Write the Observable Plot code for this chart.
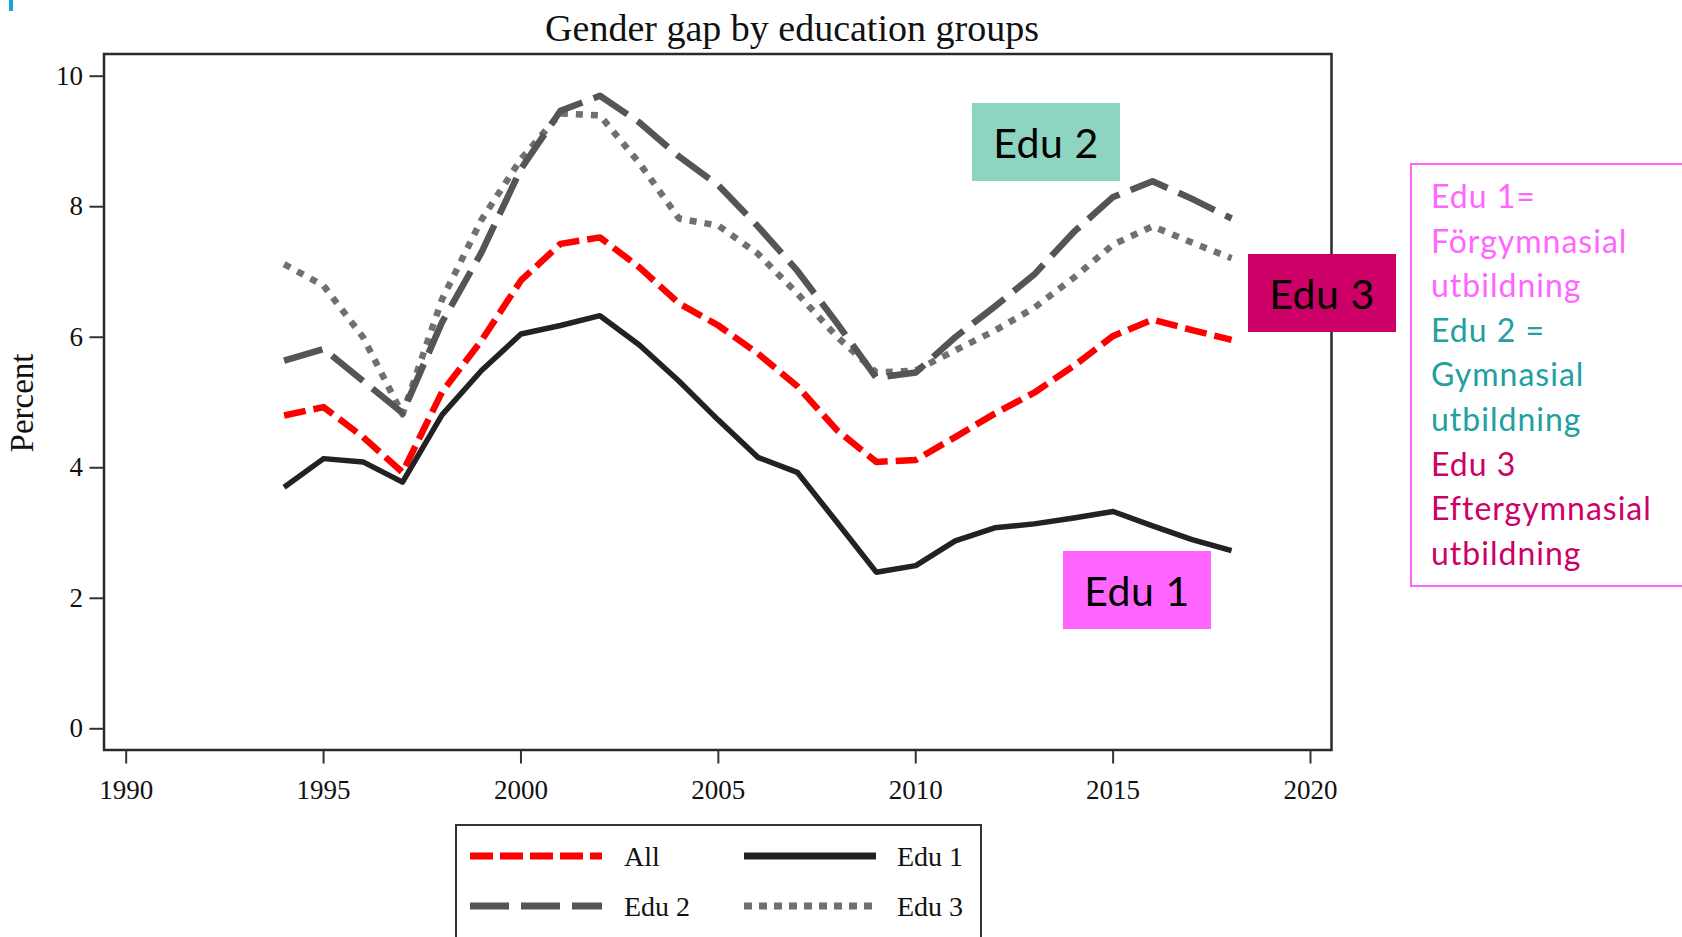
<!DOCTYPE html>
<html>
<head>
<meta charset="utf-8">
<script src="https://cdn.jsdelivr.net/npm/d3@7"></script>
<script src="https://cdn.jsdelivr.net/npm/@observablehq/plot@0.6"></script>
<style>
  html, body { margin: 0; padding: 0; background: #fff; }
  #root { position: relative; width: 1682px; height: 937px; overflow: hidden; background: #fff; }
  #plot { position: absolute; left: 0; top: 0; }
  .serif { font-family: "Liberation Serif", "DejaVu Serif", serif; color: #111; }
  .tag { position: absolute; display: flex; align-items: center; justify-content: center;
         font-family: Lato, "Open Sans", sans-serif; font-size: 41px; letter-spacing: 0.5px; color: #000; }
</style>
</head>
<body>
<div id="root">
  <div style="position:absolute;left:9px;top:0;width:4px;height:11px;background:#1aa0dc"></div>
  <div id="title" class="serif" style="position:absolute;left:792px;top:9px;transform:translateX(-50%);font-size:38px;line-height:38px;white-space:nowrap"></div>
  <div id="plot"></div>
  <div id="ylabel" class="serif" style="position:absolute;left:22px;top:403px;transform:translate(-50%,-50%) rotate(-90deg);font-size:33px;white-space:nowrap"></div>
  <div id="legend" style="position:absolute;left:455px;top:824px"></div>
  <div id="tags"></div>
  <div style="position:absolute;left:1410px;top:163px;width:300px;height:424px;border:2px solid #ff66ff;box-sizing:border-box"></div>
  <div id="notes" style="position:absolute;left:1431px;top:174px;font-family:Lato,'Open Sans',sans-serif;font-size:32px;letter-spacing:1px;line-height:44.6px;white-space:nowrap"></div>
</div>
<script>
// ---------------- data ----------------
const titleText = "Gender gap by education groups";
const yLabel = "Percent";
const years = [1994,1995,1996,1997,1998,1999,2000,2001,2002,2003,2004,2005,2006,2007,2008,2009,2010,2011,2012,2013,2014,2015,2016,2017,2018];
const allVals  = [4.80,4.93,4.47,3.93,5.16,5.95,6.87,7.43,7.53,7.07,6.52,6.18,5.75,5.25,4.58,4.09,4.12,4.47,4.83,5.15,5.56,6.02,6.27,6.11,5.96];
const edu1Vals = [3.70,4.14,4.09,3.78,4.81,5.49,6.05,6.18,6.33,5.88,5.33,4.73,4.16,3.93,3.17,2.40,2.50,2.88,3.08,3.14,3.23,3.33,3.11,2.90,2.73];
const edu2Vals = [5.64,5.82,5.33,4.84,6.23,7.30,8.58,9.47,9.70,9.29,8.77,8.33,7.70,7.02,6.22,5.38,5.46,6.00,6.47,6.96,7.61,8.15,8.39,8.12,7.82];
const edu3Vals = [7.12,6.79,6.00,4.82,6.58,7.80,8.73,9.43,9.40,8.67,7.82,7.71,7.28,6.67,6.01,5.46,5.49,5.80,6.10,6.45,6.91,7.42,7.70,7.45,7.21];
const seriesNames = ["All","Edu 1","Edu 2","Edu 3"];
const xTicks = [1990,1995,2000,2005,2010,2015,2020];
const yTicks = [0,2,4,6,8,10];
const tagLabels = ["Edu 1","Edu 2","Edu 3"];
const noteLines = [
  ["Edu 1=", 0], ["Förgymnasial", 0], ["utbildning", 0],
  ["Edu 2 =", 1], ["Gymnasial", 1], ["utbildning", 1],
  ["Edu 3", 2], ["Eftergymnasial", 2], ["utbildning", 2]
];

// ---------------- styles ----------------
const seriesStyle = {
  "All":   {stroke: "#ff0000", width: 6.5, dash: "22,8"},
  "Edu 1": {stroke: "#222222", width: 5.5, dash: null},
  "Edu 2": {stroke: "#555555", width: 6.5, dash: "40,12"},
  "Edu 3": {stroke: "#707070", width: 6.5, dash: "7,8"}
};
const tagStyle = [
  {bg: "#ff66ff", left: 1063, top: 551},
  {bg: "#8dd5c0", left: 972,  top: 103},
  {bg: "#cc0066", left: 1248, top: 254}
];
const noteColors = ["#ff66ff", "#20a0a0", "#cc0066"];

// ---------------- build table ----------------
const valuesBySeries = {"All": allVals, "Edu 1": edu1Vals, "Edu 2": edu2Vals, "Edu 3": edu3Vals};
const rows = [];
for (const name of seriesNames) {
  years.forEach((yr, i) => rows.push({series: name, year: yr, value: valuesBySeries[name][i]}));
}

const drawOrder = ["Edu 1", "All", "Edu 3", "Edu 2"];
const lineMarks = drawOrder.map(name => {
  const s = seriesStyle[name];
  return Plot.line(rows.filter(d => d.series === name), {
    x: "year", y: "value", stroke: s.stroke, strokeWidth: s.width,
    strokeDasharray: s.dash, strokeLinecap: "butt", strokeLinejoin: "round"
  });
});

const W = 1682, H = 810;
const chart = Plot.plot({
  width: W, height: H,
  marginLeft: 103.5, marginRight: W - 1331, marginTop: 53.5, marginBottom: H - 749.5,
  style: {fontFamily: "'Liberation Serif', serif", fontSize: "27px", color: "#111", background: "transparent", overflow: "visible"},
  x: {domain: [1990, 2020], range: [125.7, 1310]},
  y: {domain: [0, 10], range: [728.3, 75.7]},
  marks: [
    ...lineMarks,
    Plot.frame({stroke: "#2a2a2a", strokeWidth: 2.5}),
    Plot.axisX({ticks: xTicks, tickFormat: d => String(d), tickSize: 14, tickPadding: 16, label: null, strokeWidth: 2, stroke: "#333"}),
    Plot.axisY({ticks: yTicks, tickFormat: d => String(d), tickSize: 14, tickPadding: 7, label: null, strokeWidth: 2, stroke: "#333"})
  ]
});
document.getElementById("plot").appendChild(chart);

document.getElementById("title").textContent = titleText;
document.getElementById("ylabel").textContent = yLabel;

// ---------------- legend ----------------
const legendPos = [
  {name: "All",   sx: 15,  lx: 169, y: 32},
  {name: "Edu 1", sx: 289, lx: 442, y: 32},
  {name: "Edu 2", sx: 15,  lx: 169, y: 82},
  {name: "Edu 3", sx: 289, lx: 442, y: 82}
];
const legendDash = {"All": "23,7", "Edu 1": null, "Edu 2": "39,12", "Edu 3": "8,7"};
const NS = "http://www.w3.org/2000/svg";
const lsvg = document.createElementNS(NS, "svg");
lsvg.setAttribute("width", 528); lsvg.setAttribute("height", 120);
const frameRect = document.createElementNS(NS, "rect");
Object.entries({x: 1, y: 1, width: 525, height: 200, fill: "#fff", stroke: "#333", "stroke-width": 2}).forEach(([k, v]) => frameRect.setAttribute(k, v));
lsvg.appendChild(frameRect);
for (const p of legendPos) {
  const s = seriesStyle[p.name];
  const ln = document.createElementNS(NS, "line");
  ln.setAttribute("x1", p.sx); ln.setAttribute("x2", p.sx + 132);
  ln.setAttribute("y1", p.y); ln.setAttribute("y2", p.y);
  ln.setAttribute("stroke", s.stroke); ln.setAttribute("stroke-width", 7);
  if (legendDash[p.name]) ln.setAttribute("stroke-dasharray", legendDash[p.name]);
  lsvg.appendChild(ln);
  const tx = document.createElementNS(NS, "text");
  tx.setAttribute("x", p.lx); tx.setAttribute("y", p.y);
  tx.setAttribute("dy", "0.35em");
  tx.setAttribute("font-family", "'Liberation Serif', serif");
  tx.setAttribute("font-size", 28); tx.setAttribute("fill", "#111");
  tx.textContent = p.name;
  lsvg.appendChild(tx);
}
document.getElementById("legend").appendChild(lsvg);

// ---------------- tags ----------------
const tagsDiv = document.getElementById("tags");
tagLabels.forEach((t, i) => {
  const d = document.createElement("div");
  d.className = "tag";
  d.style.left = tagStyle[i].left + "px";
  d.style.top = tagStyle[i].top + "px";
  d.style.width = "148px"; d.style.height = "78px";
  d.style.background = tagStyle[i].bg;
  d.textContent = t;
  tagsDiv.appendChild(d);
});

// ---------------- notes ----------------
const notes = document.getElementById("notes");
noteLines.forEach(([t, c]) => {
  const d = document.createElement("div");
  d.textContent = t;
  d.style.color = noteColors[c];
  notes.appendChild(d);
});
</script>
</body>
</html>
